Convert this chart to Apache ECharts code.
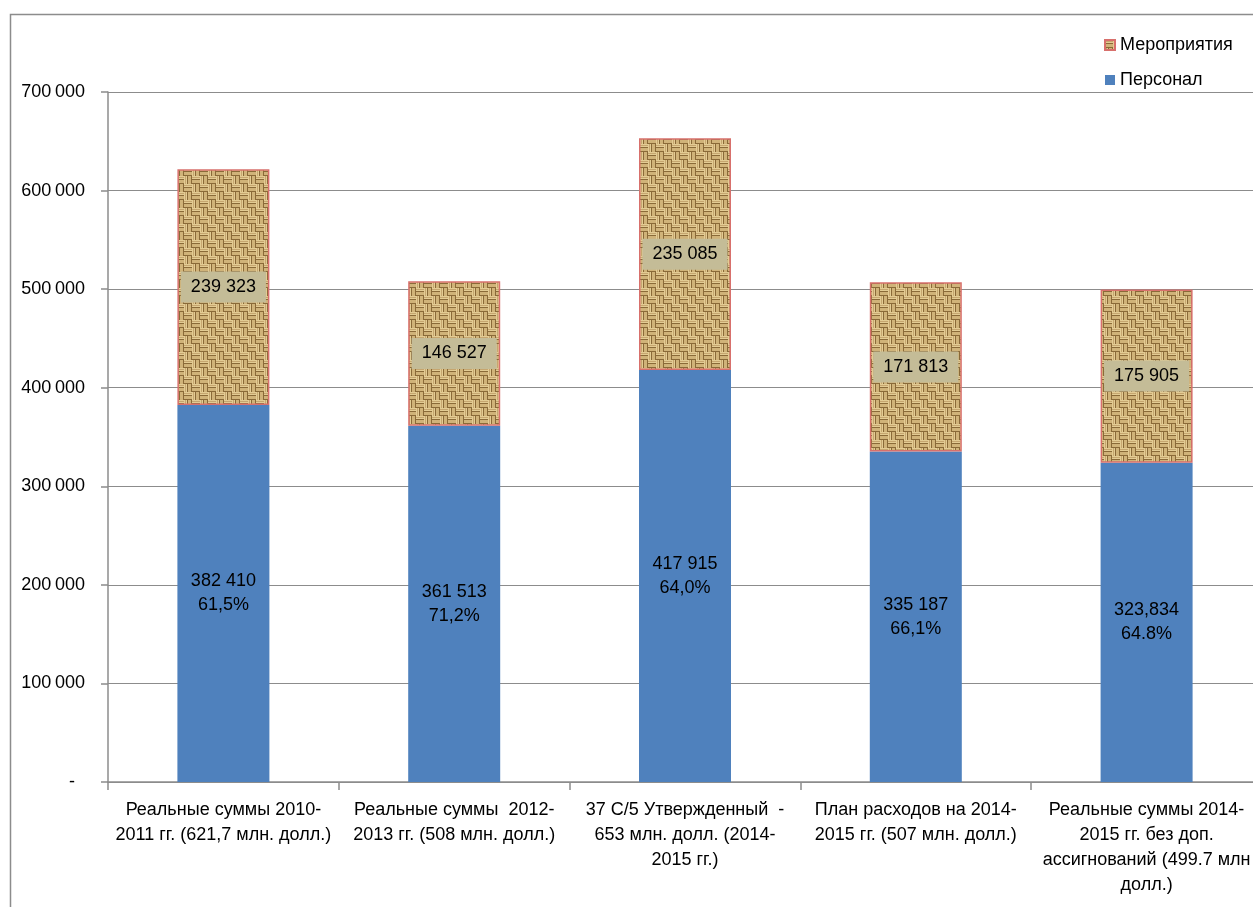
<!DOCTYPE html>
<html><head><meta charset="utf-8">
<script src="https://cdn.jsdelivr.net/npm/echarts@6/dist/echarts.min.js"></script>
<style>html,body{margin:0;padding:0;background:#fff}#c{width:1253px;height:907px}</style>
</head><body><div id="c"></div>
<script>
const categories = [
  'Реальные суммы 2010-\n2011 гг. (621,7 млн. долл.)',
  'Реальные суммы  2012-\n2013 гг. (508 млн. долл.)',
  '37 С/5 Утвержденный  -\n653 млн. долл. (2014-\n2015 гг.)',
  'План расходов на 2014-\n2015 гг. (507 млн. долл.)',
  'Реальные суммы 2014-\n2015 гг. без доп.\nассигнований (499.7 млн\nдолл.)'
];
const personnel = [382410, 361513, 417915, 335187, 323834];
const activities = [239323, 146527, 235085, 171813, 175905];
const personnelLabels = ['382 410\n61,5%', '361 513\n71,2%', '417 915\n64,0%', '335 187\n66,1%', '323,834\n64.8%'];
const activityLabels = ['239 323', '146 527', '235 085', '171 813', '175 905'];
const seriesNames = ['Персонал', 'Мероприятия'];

// burlap-like weave texture
function makeTexture() {
  const s = 8, c = document.createElement('canvas');
  c.width = s * 2; c.height = s * 2;
  const g = c.getContext('2d');
  g.fillStyle = '#8a6a38'; g.fillRect(0, 0, c.width, c.height);
  for (let by = 0; by < 2; by++) for (let bx = 0; bx < 2; bx++) {
    const horiz = (bx + by) % 2 === 0;
    const ox = bx * s, oy = by * s;
    for (let k = 0; k < 2; k++) {
      g.fillStyle = k === 0 ? '#e3cc94' : '#d0b379';
      if (horiz) g.fillRect(ox, oy + k * 4, s, 3);
      else g.fillRect(ox + k * 4, oy, 3, s);
    }
    g.fillStyle = 'rgba(185,150,95,0.7)';
    if (horiz) g.fillRect(ox, oy + 1, s, 1); else g.fillRect(ox + 1, oy, 1, s);
  }
  return c;
}
const tex = makeTexture();

const fmt = v => v === 0 ? '-  ' : String(v).replace(/\B(?=(\d{3})+(?!\d))/g, '\u2009');
const FONT = 'Liberation Sans';
const FS = 18;

const chart = echarts.init(document.getElementById('c'), null, {renderer: 'canvas'});
chart.setOption({
  animation: false,
  textStyle: {fontFamily: FONT},
  graphic: [{type: 'rect', shape: {x: 10.5, y: 14.5, width: 1400, height: 1000},
    style: {fill: 'none', stroke: '#8c8c8c', lineWidth: 1.5}, z: -1}],
  legend: {
    orient: 'vertical', left: 1099, top: 31, itemGap: 17,
    itemWidth: 10, itemHeight: 10, icon: 'rect',
    data: [seriesNames[1], seriesNames[0]],
    textStyle: {fontFamily: FONT, fontSize: FS, color: '#000'}
  },
  grid: {left: 108, top: 92, width: 1154, bottom: 125, outerBoundsMode: 'none', containLabel: false},
  xAxis: {
    type: 'category', data: categories,
    axisLine: {lineStyle: {color: '#8c8c8c', width: 1.5}},
    axisTick: {show: true, length: 8, alignWithLabel: false, lineStyle: {color: '#8c8c8c', width: 1.5}},
    axisLabel: {interval: 0, color: '#000', fontSize: FS, lineHeight: 25, margin: 16, fontFamily: FONT}
  },
  yAxis: {
    type: 'value', min: 0, max: 700000, interval: 100000,
    axisLine: {show: true, lineStyle: {color: '#8c8c8c', width: 1.5}},
    axisTick: {show: true, length: 7, lineStyle: {color: '#8c8c8c', width: 1.5}},
    splitLine: {lineStyle: {color: '#8c8c8c', width: 1.2}},
    axisLabel: {formatter: fmt, color: '#000', fontSize: FS, margin: 23, fontFamily: FONT}
  },
  series: [
    {
      name: seriesNames[0], type: 'bar', stack: 's', barWidth: 92,
      data: personnel,
      itemStyle: {color: '#4f81bd'},
      label: {show: true, position: 'inside', color: '#000', fontSize: FS, lineHeight: 24,
        fontFamily: FONT, formatter: p => personnelLabels[p.dataIndex]}
    },
    {
      name: seriesNames[1], type: 'bar', stack: 's', barWidth: 92,
      data: activities,
      itemStyle: {color: {image: tex, repetition: 'repeat'}, borderColor: '#d8706c', borderWidth: 1.5},
      label: {show: true, position: 'inside', color: '#000', fontSize: FS,
        backgroundColor: '#c4bc97', padding: [7, 10, 6, 10], fontFamily: FONT,
        formatter: p => activityLabels[p.dataIndex]}
    }
  ]
});
</script></body></html>
